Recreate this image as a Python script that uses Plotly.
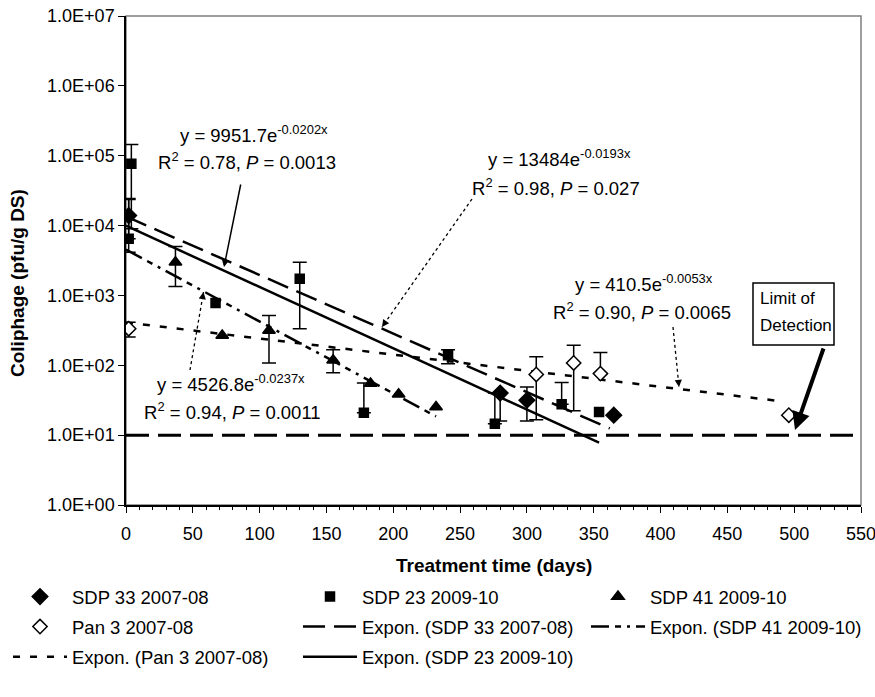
import numpy as np
import plotly.graph_objects as go

# ---------------- data ----------------
sdp33_days = [2, 280, 300, 365]
sdp33_vals = [13900, 40, 31.6, 19.3]
sdp33_hi = [23700, None, 49, None]
sdp33_lo = [4150, 16, 16, None]

sdp23_days = [2, 4, 67, 130, 178, 241, 276, 326, 354]
sdp23_vals = [6500, 77000, 776, 1730, 21, 139, 14.5, 27.7, 21.5]
sdp23_hi = [24500, 145000, None, 2990, 56, 167, 40, 56.5, None]
sdp23_lo = [None, 9000, None, 334, None, 105, None, None, None]

sdp41_days = [37, 72, 107, 155, 183, 204, 232]
sdp41_vals = [2990, 268, 316, 118, 55, 38.5, 25.3]
sdp41_hi = [5000, None, 515, 167, None, None, None]
sdp41_lo = [1340, None, 108, 78, None, None, None]

pan3_days = [2, 307, 335, 355, 496]
pan3_vals = [334, 74, 108, 76, 19.3]
pan3_hi = [414, 132, 193, 152, None]
pan3_lo = [253, 16.6, 22.3, None, None]

# exponential trendlines printed on the chart: y = a * exp(b * x)
fit_sdp33 = (13484, -0.0193, 0, 362)
fit_sdp23 = (9951.7, -0.0202, 0, 354)
fit_sdp41 = (4526.8, -0.0237, 0, 232)
fit_pan3 = (410.5, -0.0053, 0, 490)

lod_days = [0, 550]
lod_vals = [10, 10]

x_ticks = list(range(0, 551, 50))
y_tickvals = [1, 10, 100, 1e3, 1e4, 1e5, 1e6, 1e7]
y_ticktext = ["1.0E+00", "1.0E+01", "1.0E+02", "1.0E+03",
              "1.0E+04", "1.0E+05", "1.0E+06", "1.0E+07"]

FONT = "Liberation Sans, Arial, sans-serif"

# page body margin is removed by a post-script, so figure = window
OFF = 0
FIG_W, FIG_H = 875 - 2 * OFF, 697 - 2 * OFF

# plot-area geometry in screenshot pixels (for annotation placement)
L, R, T, B = 126, 861, 16, 505
W, H = R - L, B - T


def px(xp, yp):
    return (xp - L) / W, (B - yp) / H


fig = go.Figure()

# Limit of detection line
fig.add_trace(go.Scatter(x=lod_days, y=lod_vals, mode="lines",
                         line=dict(color="black", width=3, dash="23px,9px"),
                         showlegend=False, hoverinfo="skip"))


def add_fit(fit, name, dash, legend, rank):
    a, b, x0, x1 = fit
    xs = np.array([x0, x1], dtype=float)
    ys = a * np.exp(b * xs)
    fig.add_trace(go.Scatter(x=xs, y=ys, mode="lines", name=name,
                             line=dict(color="black", width=2.5, dash=dash),
                             legend=legend, legendrank=rank,
                             legendgroup=name))


add_fit(fit_sdp33, "Expon. (SDP 33 2007-08)", "22px,9px", "legend2", 2)
add_fit(fit_sdp41, "Expon. (SDP 41 2009-10)", "18px,6px,6px,6px,3px,6px",
        "legend3", 2)
add_fit(fit_pan3, "Expon. (Pan 3 2007-08)", "7px,10px", "legend", 3)
add_fit(fit_sdp23, "Expon. (SDP 23 2009-10)", "solid", "legend2", 3)


def add_series(days, vals, hi, lo, name, symbol, size, fill, legend, rank):
    ex, ey, ep, em = [], [], [], []
    for d, v, h, l in zip(days, vals, hi, lo):
        if h is None and l is None:
            continue
        ex.append(d)
        ey.append(v)
        ep.append((h if h is not None else v) - v)
        em.append(v - (l if l is not None else v))
    fig.add_trace(go.Scatter(
        x=ex, y=ey, mode="markers", showlegend=False, hoverinfo="skip",
        marker=dict(size=1, color="rgba(0,0,0,0)"),
        error_y=dict(type="data", symmetric=False, array=ep, arrayminus=em,
                     color="black", thickness=1.5, width=7)))
    fig.add_trace(go.Scatter(
        x=days, y=vals, mode="markers", name=name, legend=legend,
        legendrank=rank, legendgroup=name,
        marker=dict(symbol=symbol, size=size, color=fill,
                    line=dict(color="black", width=1.5))))


add_series(sdp33_days, sdp33_vals, sdp33_hi, sdp33_lo, "SDP 33 2007-08",
           "diamond", 12, "black", "legend", 1)
add_series(sdp23_days, sdp23_vals, sdp23_hi, sdp23_lo, "SDP 23 2009-10",
           "square", 9, "black", "legend2", 1)
add_series(sdp41_days, sdp41_vals, sdp41_hi, sdp41_lo, "SDP 41 2009-10",
           "triangle-up", 11, "black", "legend3", 1)
add_series(pan3_days, pan3_vals, pan3_hi, pan3_lo, "Pan 3 2007-08",
           "diamond", 11, "white", "legend", 2)

annotations = []
shapes = []


def text_at(xp, yp, text, size=18.5, xanchor="center"):
    x, y = px(xp, yp)
    annotations.append(dict(x=x, y=y, xref="paper", yref="paper", text=text,
                            showarrow=False, xanchor=xanchor, yanchor="middle",
                            font=dict(family=FONT, size=size, color="black")))


# equations
text_at(254, 134, "y = 9951.7e<sup>-0.0202x</sup>")
text_at(247, 161, "R<sup>2</sup> = 0.78, <i>P</i> = 0.0013")
text_at(559, 158, "y = 13484e<sup>-0.0193x</sup>")
text_at(556, 187, "R<sup>2</sup> = 0.98, <i>P</i> = 0.027")
text_at(231, 383, "y = 4526.8e<sup>-0.0237x</sup>")
text_at(232, 411, "R<sup>2</sup> = 0.94, <i>P</i> = 0.0011")
text_at(644, 283, "y = 410.5e<sup>-0.0053x</sup>")
text_at(642, 311, "R<sup>2</sup> = 0.90, <i>P</i> = 0.0065")


def solid_arrow(tail, tip, width=1.5, head=2, size=1.0):
    x, y = px(*tip)
    annotations.append(dict(x=x, y=y, xref="paper", yref="paper", text="",
                            showarrow=True, axref="pixel", ayref="pixel",
                            ax=tail[0] - tip[0], ay=tail[1] - tip[1],
                            arrowhead=head, arrowsize=size, arrowwidth=width,
                            arrowcolor="black"))


def dotted_arrow(tail, tip):
    x0, y0 = px(*tail)
    x1, y1 = px(*tip)
    shapes.append(dict(type="line", xref="paper", yref="paper",
                       x0=x0, y0=y0, x1=x1, y1=y1,
                       line=dict(color="black", width=1.3, dash="dot")))
    dx, dy = tail[0] - tip[0], tail[1] - tip[1]
    n = (dx * dx + dy * dy) ** 0.5
    annotations.append(dict(x=x1, y=y1, xref="paper", yref="paper", text="",
                            showarrow=True, axref="pixel", ayref="pixel",
                            ax=dx / n * 8, ay=dy / n * 8,
                            arrowhead=2, arrowsize=1.2, arrowwidth=1.2,
                            arrowcolor="black"))


solid_arrow((241, 183), (224, 267))
dotted_arrow((472, 199), (382, 327))
dotted_arrow((190, 370), (203.5, 292))
dotted_arrow((673, 327), (679, 387))
solid_arrow((824, 347), (795, 430), width=4, head=2, size=0.9)

# Limit of detection box
bx0, by0 = px(753, 283)
bx1, by1 = px(834, 345)
shapes.append(dict(type="rect", xref="paper", yref="paper",
                   x0=bx0, y0=by0, x1=bx1, y1=by1,
                   line=dict(color="black", width=1.5), fillcolor="white",
                   layer="above"))
text_at(758, 298, "Limit of", size=17, xanchor="left")
text_at(758, 325, "Detection", size=17, xanchor="left")

# plot border (top/right grey)
shapes.append(dict(type="rect", xref="paper", yref="paper",
                   x0=0, y0=0, x1=1, y1=1,
                   line=dict(color="#7f7f7f", width=1.5), layer="below"))

# axis titles
tx, ty = px(494, 565)
annotations.append(dict(x=tx, y=ty, xref="paper", yref="paper",
                        text="<b>Treatment time (days)</b>", showarrow=False,
                        xanchor="center", yanchor="middle",
                        font=dict(family=FONT, size=19, color="black")))
tx, ty = px(17, 283)
annotations.append(dict(x=tx, y=ty, xref="paper", yref="paper",
                        text="<b>Coliphage (pfu/g DS)</b>", showarrow=False,
                        textangle=-90, xanchor="center", yanchor="middle",
                        font=dict(family=FONT, size=19, color="black")))

LEG_TOP = 1 - (578 - OFF) / FIG_H
ITEM_W = 54


def legend_box(xscreen):
    return dict(orientation="v", xref="container", yref="container",
                x=(xscreen - OFF) / FIG_W, y=LEG_TOP,
                xanchor="left", yanchor="top",
                itemwidth=ITEM_W,
                font=dict(family=FONT, size=18.5, color="black"),
                traceorder="grouped", bgcolor="rgba(0,0,0,0)",
                tracegroupgap=3, borderwidth=0)


fig.update_layout(
    width=FIG_W, height=FIG_H,
    margin=dict(l=L - OFF, r=FIG_W - (R - OFF), t=T - OFF,
                b=FIG_H - (B - OFF), autoexpand=False),
    paper_bgcolor="white", plot_bgcolor="white",
    font=dict(family=FONT, size=18, color="black"),
    annotations=annotations, shapes=shapes,
    legend=legend_box(8),
    legend2=legend_box(298),
    legend3=legend_box(586),
)

fig.update_xaxes(range=[0, 550], tickvals=x_ticks, ticks="outside", ticklen=6,
                 tickwidth=1.2, tickcolor="black", showline=True,
                 linecolor="black", linewidth=1.5, showgrid=False,
                 zeroline=False, automargin=False, ticklabeloverflow="allow",
                 ticklabelstandoff=6,
                 tickfont=dict(family=FONT, size=18),
                 minor=dict(dtick=10, ticks="outside", ticklen=3,
                            tickcolor="black", tickwidth=1.2, showgrid=False))
fig.update_yaxes(type="log", range=[0, 7], tickvals=y_tickvals,
                 ticktext=y_ticktext, ticks="outside", ticklen=6,
                 tickwidth=1.2, tickcolor="black", showline=True,
                 linecolor="black", linewidth=1.5, showgrid=False,
                 zeroline=False, automargin=False, ticklabeloverflow="allow",
                 tickfont=dict(family=FONT, size=18))

fig.write_html(
    "out.html",
    config={"displayModeBar": False},
    post_script="document.body.style.margin='0';"
                "document.body.style.overflow='hidden';")
